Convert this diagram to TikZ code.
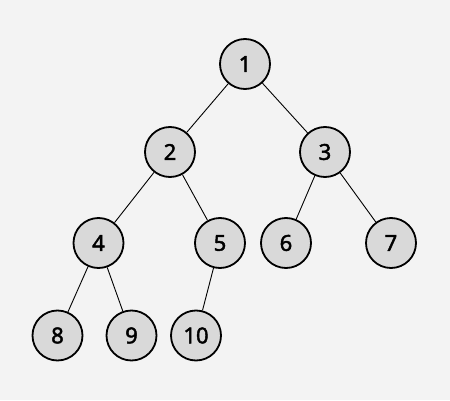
\documentclass[tikz,border=0pt]{standalone}
\usepackage{fontspec}
\setmainfont{Noto Sans}
\newfontfamily\nodefont{Noto Sans}[FakeBold=2]
\definecolor{bg}{HTML}{F3F3F3}
\definecolor{nodefill}{HTML}{D9D9D9}
\begin{document}
\begin{tikzpicture}[x=1pt,y=1pt,
  tn/.style={circle,draw=black,line width=1.8pt,fill=nodefill,minimum size=50pt,inner sep=0pt,font=\nodefont\fontsize{22}{24}\selectfont},
  edge/.style={line width=0.9pt,draw=black}]
\fill[bg] (0,0) rectangle (450,400);
\useasboundingbox (0,0) rectangle (450,400);
\node[tn] (n1) at (245,336) {1};
\node[tn] (n2) at (170,248) {2};
\node[tn] (n3) at (325,248) {3};
\node[tn] (n4) at (98.5,157) {4};
\node[tn] (n5) at (220,157) {5};
\node[tn] (n6) at (286,157) {6};
\node[tn] (n7) at (391,157) {7};
\node[tn] (n8) at (57.5,64.5) {8};
\node[tn] (n9) at (131.5,64.5) {9};
\node[tn] (n10) at (196,64.5) {10};
\draw[edge] (n1) -- (n2);
\draw[edge] (n1) -- (n3);
\draw[edge] (n2) -- (n4);
\draw[edge] (n2) -- (n5);
\draw[edge] (n3) -- (n6);
\draw[edge] (n3) -- (n7);
\draw[edge] (n4) -- (n8);
\draw[edge] (n4) -- (n9);
\draw[edge] (n5) -- (n10);
\end{tikzpicture}
\end{document}
